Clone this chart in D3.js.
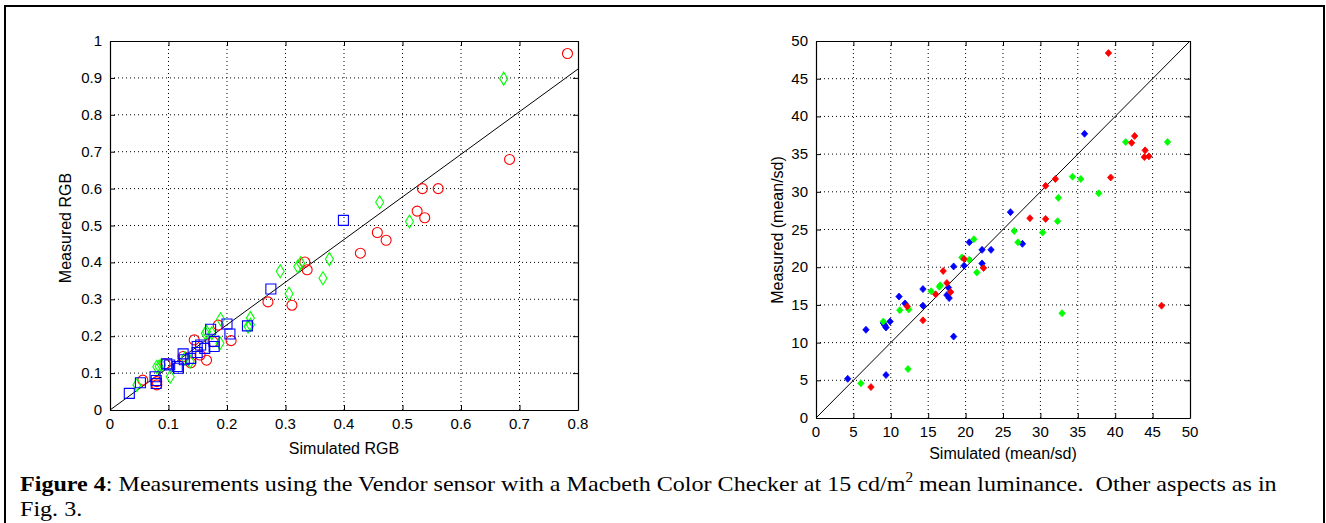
<!DOCTYPE html>
<html>
<head>
<meta charset="utf-8">
<script src="https://cdn.jsdelivr.net/npm/d3@7"></script>
<style>
body { margin: 0; background: #fff; }
svg { display: block; }
.tick-label, .axis-label { font-family: "Liberation Sans", Arial, sans-serif; fill: #000; }
.caption { font-family: "Liberation Serif", "Times New Roman", serif; fill: #000; }
</style>
</head>
<body>
<svg id="svg"></svg>
<script>
// left plot : simulated / measured RGB, one pair per patch
var rgbRed = [
	[0.782, 0.966], [0.683, 0.679], [0.534, 0.600], [0.561, 0.600], [0.525, 0.539],
	[0.538, 0.521], [0.457, 0.481], [0.472, 0.460], [0.428, 0.425], [0.333, 0.401],
	[0.337, 0.380], [0.270, 0.293], [0.311, 0.284], [0.185, 0.230], [0.144, 0.190],
	[0.207, 0.188], [0.176, 0.185], [0.165, 0.135], [0.154, 0.149], [0.094, 0.125],
	[0.056, 0.081], [0.080, 0.077], [0.080, 0.068], [0.138, 0.128], [0.125, 0.145]
];
var rgbGreen = [
	[0.673, 0.898], [0.461, 0.563], [0.512, 0.511], [0.375, 0.409], [0.364, 0.357],
	[0.326, 0.398], [0.321, 0.389], [0.291, 0.376], [0.306, 0.315], [0.240, 0.249],
	[0.240, 0.231], [0.189, 0.246], [0.163, 0.208], [0.236, 0.226], [0.165, 0.212],
	[0.188, 0.181], [0.174, 0.208], [0.137, 0.131], [0.128, 0.140], [0.103, 0.090],
	[0.088, 0.122], [0.080, 0.117], [0.046, 0.068], [0.084, 0.118]
];
var rgbBlue = [
	[0.399, 0.514], [0.275, 0.328], [0.235, 0.228], [0.200, 0.233], [0.205, 0.206],
	[0.172, 0.219], [0.178, 0.172], [0.178, 0.186], [0.155, 0.176], [0.162, 0.167],
	[0.149, 0.156], [0.125, 0.152], [0.138, 0.140], [0.127, 0.136], [0.115, 0.118],
	[0.117, 0.113], [0.097, 0.125], [0.102, 0.122], [0.077, 0.090], [0.079, 0.080],
	[0.079, 0.072], [0.052, 0.074], [0.033, 0.045], [0.149, 0.172]
];
var rgbFit = [[0, 0], [0.8, 0.924]];
var rgbXTicks = [0, 0.1, 0.2, 0.3, 0.4, 0.5, 0.6, 0.7, 0.8];
var rgbYTicks = [0, 0.1, 0.2, 0.3, 0.4, 0.5, 0.6, 0.7, 0.8, 0.9, 1];

// right plot : simulated / measured mean/sd
var snrRed = [
	[7.35, 4.1], [12.2, 14.8], [14.3, 12.95], [16.0, 16.4], [17.5, 17.9],
	[18.0, 16.7], [17.0, 19.5], [19.8, 21.1], [22.4, 19.9], [39.1, 48.4],
	[42.6, 37.4], [42.2, 36.5], [44.0, 35.5], [43.9, 34.6], [44.5, 34.7],
	[39.4, 31.9], [32.0, 31.7], [30.7, 30.8], [28.6, 26.5], [30.7, 26.4],
	[46.2, 14.9]
];
var snrGreen = [
	[6.0, 4.6], [12.3, 6.5], [9.0, 12.8], [11.2, 14.3], [12.4, 14.4],
	[15.4, 16.8], [16.5, 17.4], [16.6, 17.6], [19.5, 21.3], [20.5, 21.0],
	[21.1, 23.7], [21.5, 19.3], [26.5, 24.8], [27.0, 23.3], [34.3, 32.0],
	[35.4, 31.7], [37.8, 29.8], [32.4, 29.2], [32.3, 26.1], [30.3, 24.6],
	[32.9, 13.9], [41.4, 36.6], [47.0, 36.6]
];
var snrBlue = [
	[4.24, 5.2], [9.36, 5.7], [6.68, 11.7], [9.0, 12.6], [9.2, 12.3],
	[9.36, 12.0], [9.9, 12.8], [11.1, 16.1], [11.9, 15.2], [14.3, 17.1],
	[14.3, 14.9], [17.7, 17.3], [17.5, 16.3], [17.8, 15.9], [18.4, 10.8],
	[18.4, 20.1], [19.8, 20.2], [20.5, 23.3], [22.2, 22.3], [23.4, 22.3],
	[22.2, 20.5], [26.0, 27.3], [27.6, 23.1], [35.9, 37.7]
];
var snrFit = [[0, 0], [50, 50]];
var snrTicks = [0, 5, 10, 15, 20, 25, 30, 35, 40, 45, 50];

Figure =
{
	width: 1326,
	height: 523,

	init_canevas()
	{
		canevas = d3.select("#svg")
			.attr("width", this.width)
			.attr("height", this.height)

		// cadre autour de la figure
		canevas.append("rect")
			.attr("x", 5)
			.attr("y", 6)
			.attr("width", 1319)
			.attr("height", 530)
			.attr("fill", "none")
			.attr("stroke", "black")
			.attr("stroke-width", 2)
	},

	draw_panel(p)
	{
		var x = d3.scaleLinear().domain(p.xDomain).range(p.xRange);
		var y = d3.scaleLinear().domain(p.yDomain).range(p.yRange);
		var g = canevas.append("g");
		var x0 = p.xRange[0], x1 = p.xRange[1], y0 = p.yRange[0], y1 = p.yRange[1];

		// grille pointillée
		g.selectAll(".gx").data(p.xTicks.slice(1, -1)).enter().append("line")
			.attr("x1", d => x(d)).attr("x2", d => x(d))
			.attr("y1", y0).attr("y2", y1)
			.attr("stroke", "black").attr("stroke-dasharray", "1,3");
		g.selectAll(".gy").data(p.yTicks.slice(1, -1)).enter().append("line")
			.attr("x1", x0).attr("x2", x1)
			.attr("y1", d => y(d)).attr("y2", d => y(d))
			.attr("stroke", "black").attr("stroke-dasharray", "1,3");

		// axes, ticks vers l'intérieur sur les 4 côtés
		var axes = [
			[d3.axisBottom(x), "translate(0," + y0 + ")", p.xTicks, -5],
			[d3.axisTop(x), "translate(0," + y1 + ")", p.xTicks, -5],
			[d3.axisLeft(y), "translate(" + x0 + ",0)", p.yTicks, -5],
			[d3.axisRight(y), "translate(" + x1 + ",0)", p.yTicks, -5]
		];
		axes.forEach(function(a){
			var ax = g.append("g").attr("transform", a[1])
				.call(a[0].tickValues(a[2]).tickSizeInner(a[3]).tickSizeOuter(0).tickFormat(""));
			ax.select(".domain").attr("stroke", "black").attr("stroke-width", 1.2);
			ax.selectAll(".tick line").attr("stroke", "black");
		});

		g.selectAll(".lx").data(p.xTicks).enter().append("text")
			.attr("class", "tick-label")
			.attr("x", d => x(d)).attr("y", y0 + p.xLabelDy)
			.attr("text-anchor", "middle")
			.style("font-size", "15px")
			.text(d => d);
		g.selectAll(".ly").data(p.yTicks).enter().append("text")
			.attr("class", "tick-label")
			.attr("x", x0 - 8).attr("y", d => y(d) + 5)
			.attr("text-anchor", "end")
			.style("font-size", "15px")
			.text(d => d);

		g.append("text").attr("class", "axis-label")
			.attr("x", p.xLabel[1]).attr("y", p.xLabel[2])
			.attr("text-anchor", "middle").style("font-size", "16px")
			.text(p.xLabel[0]);
		g.append("text").attr("class", "axis-label")
			.attr("transform", "translate(" + p.yLabel[1] + "," + p.yLabel[2] + ") rotate(-90)")
			.attr("text-anchor", "middle").style("font-size", "16px")
			.text(p.yLabel[0]);

		// droite de référence
		g.append("path")
			.datum(p.fit)
			.attr("d", d3.line().x(d => x(d[0])).y(d => y(d[1])))
			.attr("stroke", "black").attr("stroke-width", 1).attr("fill", "none");

		p.series.forEach(function(s){
			g.selectAll(null).data(s.data).enter().append("path")
				.attr("transform", d => "translate(" + x(d[0]) + "," + y(d[1]) + ")")
				.attr("d", s.shape)
				.attr("fill", s.fill ? s.color : "none")
				.attr("stroke", s.color)
				.attr("stroke-width", s.fill ? 0.8 : 1.1);
		});
	},

	caption()
	{
		// le texte est un peu plus large que Times à cette taille
		var cap = canevas.append("g")
			.attr("transform", "translate(20,0) scale(1.095,1)");

		var t = cap.append("text")
			.attr("class", "caption")
			.attr("x", 0).attr("y", 491)
			.style("font-size", "22px");
		t.append("tspan").style("font-weight", "bold").text("Figure 4");
		t.append("tspan").text(": Measurements using the Vendor sensor with a Macbeth Color Checker at 15 cd/m");
		t.append("tspan").attr("dy", -9).style("font-size", "14px").text("2");
		t.append("tspan").attr("dy", 9).text(" mean luminance.\u00a0\u00a0Other aspects as in");

		cap.append("text")
			.attr("class", "caption")
			.attr("x", 0).attr("y", 516)
			.style("font-size", "22px")
			.text("Fig. 3.");
	},

	init()
	{
		var circle = "M5,0A5,5 0 1,1 -5,0A5,5 0 1,1 5,0Z";
		var square = "M-5,-5H5V5H-5Z";
		var diamond = "M0,-6.5L4,0L0,6.5L-4,0Z";
		var dot = "M0,-3.5L3.2,0L0,3.5L-3.2,0Z";

		this.init_canevas();

		this.draw_panel({
			xDomain: [0, 0.8], xRange: [110, 578],
			yDomain: [0, 1], yRange: [410, 41],
			xTicks: rgbXTicks, yTicks: rgbYTicks,
			xLabelDy: 19,
			xLabel: ["Simulated RGB", 344, 454],
			yLabel: ["Measured RGB", 71, 228],
			fit: rgbFit,
			series: [
				{data: rgbRed, color: "#ff0000", shape: circle},
				{data: rgbGreen, color: "#00ff00", shape: diamond},
				{data: rgbBlue, color: "#0000ff", shape: square}
			]
		});

		this.draw_panel({
			xDomain: [0, 50], xRange: [816, 1190],
			yDomain: [0, 50], yRange: [418, 41],
			xTicks: snrTicks, yTicks: snrTicks,
			xLabelDy: 19,
			xLabel: ["Simulated (mean/sd)", 1003, 459],
			yLabel: ["Measured (mean/sd)", 783, 230],
			fit: snrFit,
			series: [
				{data: snrBlue, color: "#0000ff", shape: dot, fill: true},
				{data: snrGreen, color: "#00ff00", shape: dot, fill: true},
				{data: snrRed, color: "#ff0000", shape: dot, fill: true}
			]
		});

		this.caption();
	}
}

Figure.init();
</script>
</body>
</html>
